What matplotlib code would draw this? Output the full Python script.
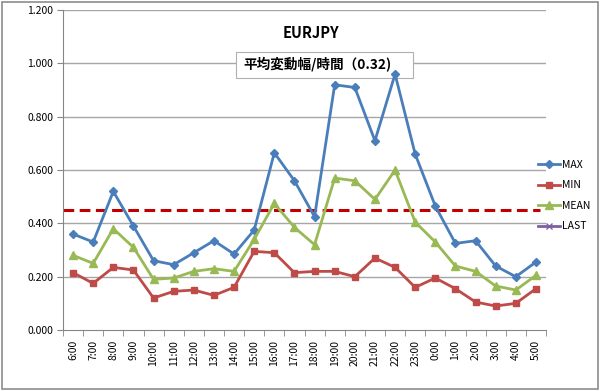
import matplotlib
matplotlib.use('Agg')
import matplotlib.pyplot as plt
from matplotlib.patches import Rectangle

plt.rcParams['font.family'] = ['Noto Sans CJK JP', 'DejaVu Sans']

# Hourly EURJPY range statistics
hours = ['6:00', '7:00', '8:00', '9:00', '10:00', '11:00', '12:00', '13:00',
         '14:00', '15:00', '16:00', '17:00', '18:00', '19:00', '20:00', '21:00',
         '22:00', '23:00', '0:00', '1:00', '2:00', '3:00', '4:00', '5:00']
max_vals = [0.36, 0.33, 0.52, 0.39, 0.26, 0.245, 0.29, 0.335, 0.285, 0.375, 0.665, 0.56,
            0.425, 0.92, 0.91, 0.71, 0.96, 0.66, 0.465, 0.325, 0.335, 0.24, 0.20, 0.255]
min_vals = [0.215, 0.175, 0.235, 0.225, 0.12, 0.145, 0.15, 0.13, 0.16, 0.295, 0.29, 0.215,
            0.22, 0.22, 0.2, 0.27, 0.235, 0.16, 0.195, 0.155, 0.105, 0.09, 0.10, 0.155]
mean_vals = [0.28, 0.25, 0.38, 0.31, 0.19, 0.195, 0.22, 0.23, 0.22, 0.34, 0.475, 0.385,
             0.32, 0.57, 0.56, 0.49, 0.60, 0.405, 0.33, 0.24, 0.22, 0.165, 0.15, 0.205]
last_vals = []
avg_level = 0.45
yticks = [0.0, 0.2, 0.4, 0.6, 0.8, 1.0, 1.2]

fig = plt.figure(figsize=(6, 3.91), dpi=100)
ax = fig.add_axes([0.105, 0.156, 0.805, 0.818])

x = list(range(len(hours)))
for y in yticks[1:]:
    ax.axhline(y, color='#a6a6a6', lw=1.0, zorder=0)

ax.plot(x, max_vals, color='#4a7ebb', lw=2, marker='D', ms=4.5, label='MAX')
ax.plot(x, min_vals, color='#be4b48', lw=2, marker='s', ms=5, label='MIN')
ax.plot(x, mean_vals, color='#98b954', lw=2, marker='^', ms=5.5, label='MEAN')
ax.plot(last_vals, last_vals, color='#7d60a0', lw=2, marker='x', ms=5, label='LAST')
ax.axhline(avg_level, xmax=0.987, color='#c00000', lw=2.2, ls=(0, (3.5, 1.8)), zorder=1)

ax.set_xlim(-0.5, len(hours) - 0.5)
ax.set_ylim(0, 1.2)
ax.set_yticks(yticks)
ax.set_yticklabels([f'{v:.3f}' for v in yticks], fontsize=7.5)
ax.set_xticks(x)
ax.set_xticklabels(hours, rotation=90, fontsize=7.5)
ax.set_xticks([i - 0.5 for i in range(len(hours) + 1)], minor=True)
ax.tick_params(axis='x', which='major', length=0, pad=7)
ax.tick_params(axis='x', which='minor', length=4, color='#868686')
ax.tick_params(axis='y', length=4, color='#868686', pad=3)
for side in ['top', 'right']:
    ax.spines[side].set_visible(False)
for side in ['left', 'bottom']:
    ax.spines[side].set_color('#868686')

# title and average-range label box (box sits under the lines, text on top)
ax.text(0.513, 0.93, 'EURJPY', transform=ax.transAxes, ha='center', va='center',
        fontsize=10.5, fontweight='bold')
ax.add_patch(Rectangle((0.358, 0.7875), 0.367, 0.0815, transform=ax.transAxes,
                       fc='white', ec='#b0b0b0', lw=0.8, zorder=1.5))
ax.text(0.373, 0.828, '平均変動幅/時間（0.32)', transform=ax.transAxes, ha='left',
        va='center', fontsize=9.8, fontweight='bold', zorder=4)

ax.legend(loc='center left', bbox_to_anchor=(0.973, 0.42), frameon=False, fontsize=7.5,
          handlelength=2.1, handletextpad=0.2, labelspacing=1.0, borderpad=0)

fig.patches.append(Rectangle((0.003, 0.005), 0.994, 0.99, transform=fig.transFigure,
                             fill=False, ec='#8c8c8c', lw=1.2))

fig.savefig('out.png', dpi=100)
